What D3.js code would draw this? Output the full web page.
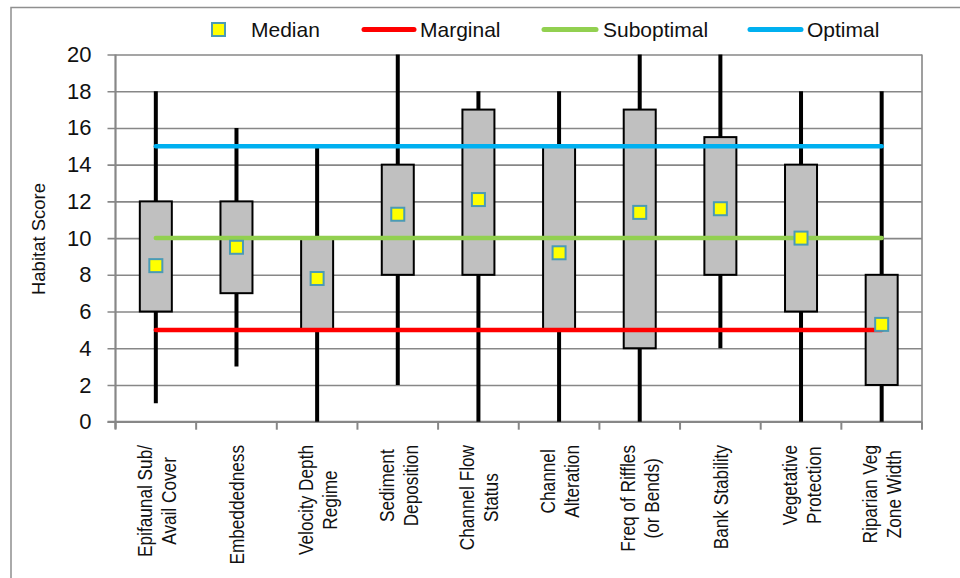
<!DOCTYPE html>
<html>
<head>
<meta charset="UTF-8">
<title>Habitat Score</title>
<script src="https://cdn.jsdelivr.net/npm/d3@7"></script>
<style>
  body { margin: 0; background: #fff; }
  svg { display: block; font-family: "Liberation Sans", Arial, sans-serif; }
</style>
</head>
<body>
<div id="chart"></div>
<script>
// categories (label lines) and box statistics
var categories = [
  ["Epifaunal Sub/", "Avail Cover"],
  ["Embeddedness"],
  ["Velocity Depth", "Regime"],
  ["Sediment", "Deposition"],
  ["Channel Flow", "Status"],
  ["Channel", "Alteration"],
  ["Freq of Riffles", "(or Bends)"],
  ["Bank Stability"],
  ["Vegetative", "Protection"],
  ["Riparian Veg", "Zone Width"]
];
var minVals    = [1, 3, 0, 2, 0, 0, 0, 4, 0, 0];
var q1Vals     = [6, 7, 5, 8, 8, 5, 4, 8, 6, 2];
var medianVals = [8.5, 9.5, 7.8, 11.3, 12.1, 9.2, 11.4, 11.6, 10.0, 5.3];
var q3Vals     = [12, 12, 10, 14, 17, 15, 17, 15.5, 14, 8];
var maxVals    = [18, 16, 15, 20, 18, 18, 20, 20, 18, 18];

// reference series
var marginal   = [5, 5, 5, 5, 5, 5, 5, 5, 5, 5];
var suboptimal = [10, 10, 10, 10, 10, 10, 10, 10, 10, 10];
var optimal    = [15, 15, 15, 15, 15, 15, 15, 15, 15, 15];

var yTicks = [0, 2, 4, 6, 8, 10, 12, 14, 16, 18, 20];
var legendNames = ["Median", "Marginal", "Suboptimal", "Optimal"];

var W = 960, H = 578;
var plot = {left: 115.5, right: 922, top: 54.5, bottom: 421.7};

var svg = d3.select("#chart").append("svg")
    .attr("width", W)
    .attr("height", H);

// outer chart border
svg.append("rect")
    .attr("x", 11).attr("y", 7.5)
    .attr("width", 980).attr("height", 600)
    .attr("fill", "none")
    .attr("stroke", "#8f8f8f")
    .attr("stroke-width", 1.5);

var idx = d3.range(categories.length);

var x = d3.scaleBand()
    .domain(idx)
    .range([plot.left, plot.right]);

var y = d3.scaleLinear()
    .domain([0, 20])
    .range([plot.bottom, plot.top]);

var cx = function(i) { return x(i) + x.bandwidth() / 2; };

// y axis with gridlines
var yAxis = svg.append("g")
    .attr("transform", "translate(" + plot.left + ",0)")
    .call(d3.axisLeft(y)
        .tickValues(yTicks)
        .tickSize(-(plot.right - plot.left))
        .tickPadding(24)
        .tickSizeOuter(0));
yAxis.select(".domain").remove();
yAxis.selectAll(".tick line")
    .attr("x1", -8)
    .attr("stroke", "#878787")
    .attr("stroke-width", 1.6);
yAxis.selectAll(".tick text")
    .attr("font-size", "22px")
    .attr("fill", "#111")
    .attr("font-family", "'Liberation Sans', Arial, sans-serif");

// left and right plot edges
svg.append("line")
    .attr("x1", plot.left).attr("x2", plot.left)
    .attr("y1", plot.top).attr("y2", plot.bottom + 7)
    .attr("stroke", "#878787").attr("stroke-width", 2.2);
svg.append("line")
    .attr("x1", plot.right).attr("x2", plot.right)
    .attr("y1", plot.top).attr("y2", plot.bottom + 7)
    .attr("stroke", "#878787").attr("stroke-width", 1.6);

// x axis ticks at category boundaries
var xAxis = svg.append("g")
    .attr("transform", "translate(0," + plot.bottom + ")");
xAxis.append("line")
    .attr("x1", plot.left - 8).attr("x2", plot.right)
    .attr("stroke", "#878787").attr("stroke-width", 2);
xAxis.selectAll(".xt")
    .data(idx.concat([categories.length]))
    .enter().append("line")
    .attr("class", "xt")
    .attr("x1", function(i) { return i < categories.length ? x(i) : plot.right; })
    .attr("x2", function(i) { return i < categories.length ? x(i) : plot.right; })
    .attr("y1", 0).attr("y2", 8)
    .attr("stroke", "#878787").attr("stroke-width", 2);

// whiskers (high-low lines)
svg.append("g").selectAll("line")
    .data(idx)
    .enter().append("line")
    .attr("x1", cx).attr("x2", cx)
    .attr("y1", function(i) { return y(minVals[i]); })
    .attr("y2", function(i) { return y(maxVals[i]); })
    .attr("stroke", "#000")
    .attr("stroke-width", 4);

// boxes
var boxW = 32;
svg.append("g").selectAll("rect")
    .data(idx)
    .enter().append("rect")
    .attr("x", function(i) { return cx(i) - boxW / 2; })
    .attr("y", function(i) { return y(q3Vals[i]); })
    .attr("width", boxW)
    .attr("height", function(i) { return y(q1Vals[i]) - y(q3Vals[i]); })
    .attr("fill", "#c0c0c0")
    .attr("stroke", "#000")
    .attr("stroke-width", 2);

// threshold lines
var refSeries = [
  {values: marginal, color: "#ff0000"},
  {values: suboptimal, color: "#92d050"},
  {values: optimal, color: "#00b0f0"}
];
var line = d3.line()
    .x(function(d, i) { return cx(i); })
    .y(function(d) { return y(d); });
svg.append("g").selectAll("path")
    .data(refSeries)
    .enter().append("path")
    .attr("d", function(s) { return line(s.values); })
    .attr("fill", "none")
    .attr("stroke", function(s) { return s.color; })
    .attr("stroke-width", 4.5)
    .attr("stroke-linecap", "round");

// median markers
var mk = 13;
svg.append("g").selectAll("rect")
    .data(idx)
    .enter().append("rect")
    .attr("x", function(i) { return cx(i) - mk / 2; })
    .attr("y", function(i) { return y(medianVals[i]) - mk / 2; })
    .attr("width", mk).attr("height", mk)
    .attr("fill", "#ffff00")
    .attr("stroke", "#4a9bb5")
    .attr("stroke-width", 2);

// category labels (rotated, narrow)
var labelTop = 445, lineGap = 24, ascent = 15.5;
var labels = svg.append("g").selectAll("g")
    .data(idx)
    .enter().append("g")
    .attr("transform", function(i) {
        return "translate(" + cx(i) + "," + labelTop + ") rotate(-90) scale(0.82,1)";
    });
labels.each(function(i) {
    var g = d3.select(this);
    var lines = categories[i];
    var texts = g.selectAll("text")
        .data(lines)
        .enter().append("text")
        .attr("font-size", "21px")
        .attr("fill", "#111")
        .attr("text-anchor", "middle")
        .text(function(d) { return d; });
    var maxLen = d3.max(texts.nodes(), function(n) { return n.getComputedTextLength(); });
    var first = -(ascent + (lines.length - 1) * lineGap) / 2 + ascent;
    texts.attr("x", -maxLen / 2)
        .attr("y", function(d, k) { return first + k * lineGap; });
});

// y axis title
svg.append("text")
    .attr("transform", "translate(45,239) rotate(-90)")
    .attr("text-anchor", "middle")
    .attr("font-size", "18.5px")
    .attr("fill", "#111")
    .text("Habitat Score");

// legend
var legend = svg.append("g");
legend.append("rect")
    .attr("x", 212).attr("y", 23)
    .attr("width", 13).attr("height", 13)
    .attr("fill", "#ffff00")
    .attr("stroke", "#4a9bb5")
    .attr("stroke-width", 2);
legend.append("text")
    .attr("x", 251).attr("y", 37)
    .attr("font-size", "21px").attr("fill", "#111")
    .text(legendNames[0]);

var legendLines = [
  {x1: 364, x2: 414, tx: 420, color: refSeries[0].color, name: legendNames[1]},
  {x1: 544, x2: 596, tx: 603, color: refSeries[1].color, name: legendNames[2]},
  {x1: 750, x2: 801, tx: 807, color: refSeries[2].color, name: legendNames[3]}
];
legendLines.forEach(function(l) {
    legend.append("line")
        .attr("x1", l.x1).attr("x2", l.x2)
        .attr("y1", 29.5).attr("y2", 29.5)
        .attr("stroke", l.color)
        .attr("stroke-width", 5)
        .attr("stroke-linecap", "round");
    legend.append("text")
        .attr("x", l.tx).attr("y", 37)
        .attr("font-size", "21px").attr("fill", "#111")
        .text(l.name);
});
</script>
</body>
</html>
